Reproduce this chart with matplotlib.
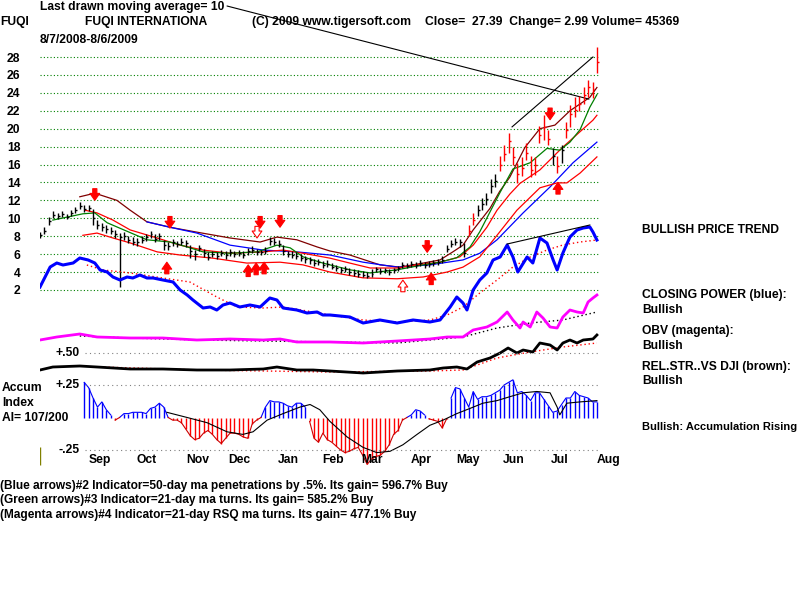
import numpy as np
import matplotlib
matplotlib.use("Agg")
import matplotlib.pyplot as plt

plt.rcParams["font.family"] = ["Liberation Sans", "DejaVu Sans"]

# ---- daily bars (one bar per two trading days, 8/7/2008 - 8/6/2009)
close = [8.1, 8.6, 9.7, 10.4, 10.2, 10.5, 10.1, 10.6, 10.9, 11.4,
         11.0, 11.2, 10.0, 9.2, 9.0, 8.8, 8.6, 8.2, 7.9, 8.0,
         7.6, 7.4, 7.3, 7.6, 7.9, 8.2, 7.7, 8.0, 7.0, 6.9,
         7.3, 7.1, 7.4, 7.2, 6.3, 6.0, 6.7, 6.1, 5.7, 6.0,
         5.8, 6.1, 5.9, 6.2, 6.0, 6.1, 5.9, 6.3, 6.5, 6.2,
         6.2, 6.4, 7.5, 7.4, 7.1, 6.3, 6.0, 5.9, 5.8, 5.6,
         5.4, 5.3, 5.0, 5.1, 4.8, 4.9, 4.6, 4.4, 4.2, 4.3,
         4.0, 3.9, 3.8, 3.7, 3.6, 3.8, 4.3, 4.1, 4.2, 4.0,
         4.2, 4.4, 4.8, 4.7, 4.9, 4.8, 5.0, 4.8, 4.9, 5.0,
         5.1, 5.3, 6.6, 7.1, 7.4, 7.3, 6.1, 8.6, 9.8, 10.9,
         11.6, 12.2, 13.6, 14.2, 16.0, 17.2, 18.6, 16.8, 14.9, 15.6,
         17.3, 15.4, 15.9, 19.3, 20.2, 18.9, 16.9, 15.8, 17.6, 19.8,
         21.6, 22.1, 22.8, 23.8, 24.6, 24.4, 27.4]
high = [8.5, 9.0, 10.1, 10.8, 10.6, 10.8, 10.5, 10.9, 11.3, 11.8,
        11.5, 11.5, 11.0, 9.8, 9.5, 9.2, 9.0, 8.7, 8.4, 8.5,
        8.0, 7.9, 7.8, 8.0, 8.3, 8.6, 8.2, 8.4, 7.6, 7.3,
        7.7, 7.5, 7.8, 7.6, 7.0, 6.5, 7.0, 6.6, 6.2, 6.4,
        6.2, 6.5, 6.3, 6.6, 6.4, 6.5, 6.3, 6.7, 6.9, 6.6,
        6.5, 6.8, 7.9, 7.8, 7.6, 7.0, 6.4, 6.3, 6.2, 6.0,
        5.8, 5.7, 5.5, 5.5, 5.2, 5.3, 5.0, 4.8, 4.6, 4.7,
        4.4, 4.3, 4.2, 4.1, 4.0, 4.3, 4.6, 4.4, 4.5, 4.3,
        4.5, 4.7, 5.1, 5.0, 5.2, 5.1, 5.3, 5.1, 5.2, 5.3,
        5.5, 5.8, 7.0, 7.6, 7.8, 7.7, 7.2, 9.3, 10.6, 11.5,
        12.3, 12.8, 14.4, 14.9, 16.9, 18.2, 19.5, 18.0, 16.2, 16.8,
        18.4, 16.9, 16.8, 20.3, 21.5, 19.8, 17.8, 16.9, 18.2, 20.8,
        22.6, 23.5, 23.6, 24.6, 25.4, 25.2, 29.1]
low = [7.8, 8.2, 9.3, 10.0, 9.9, 10.1, 9.9, 10.3, 10.6, 11.0,
       10.7, 10.8, 9.3, 8.8, 8.6, 8.4, 8.2, 7.8, 2.3, 7.6,
       7.2, 7.0, 6.9, 7.2, 7.5, 7.8, 7.3, 7.6, 6.5, 6.5,
       6.9, 6.8, 7.0, 6.8, 5.6, 5.3, 6.3, 5.7, 5.3, 5.7,
       5.4, 5.8, 5.5, 5.8, 5.7, 5.8, 5.6, 5.9, 6.1, 5.9,
       5.9, 6.0, 7.0, 7.0, 6.8, 5.9, 5.7, 5.6, 5.5, 5.2,
       5.0, 4.9, 4.7, 4.8, 4.5, 4.6, 4.3, 4.1, 3.9, 4.0,
       3.7, 3.6, 3.5, 3.4, 3.3, 3.5, 4.0, 3.8, 3.9, 3.7,
       3.9, 4.1, 4.5, 4.4, 4.6, 4.5, 4.7, 4.5, 4.6, 4.7,
       4.8, 5.0, 6.2, 6.8, 7.0, 6.8, 5.7, 8.0, 9.2, 10.2,
       10.9, 11.5, 12.8, 13.5, 15.3, 16.4, 17.3, 15.9, 13.9, 14.7,
       16.5, 14.6, 14.8, 18.4, 18.7, 18.2, 16.0, 15.0, 16.2, 19.0,
       20.2, 21.3, 22.0, 22.8, 23.5, 23.4, 26.2]
red_bars = [97, 98, 104, 105, 106, 107, 108, 109, 110, 111, 112, 113, 114,
            115, 117, 119, 120, 121, 122, 123, 124, 125, 126]

# ---- moving averages / bands (bar index, price)
ma10_x = [2.9, 9.7, 12.4, 15.2, 20.4, 24.2, 29.4, 33.3, 36.9, 43.0, 49.1, 53.6,
          56.6, 59.5, 64.0, 65.6, 70.1, 74.7, 80.8, 86.7, 90.5, 94.3, 97.3,
          99.5, 104.1, 107.0, 110.9, 114.7, 117.6, 119.9, 122.2, 124.4, 126.0]
ma10_y = [9.8, 10.5, 10.6, 9.5, 8.4, 7.6, 7.35, 6.8, 6.25, 6.1, 6.25, 7.0,
          6.7, 5.7, 5.0, 4.8, 4.25, 3.9, 4.25, 4.8, 5.1, 5.6, 6.8,
          8.5, 12.9, 15.5, 16.2, 17.8, 17.6, 18.5, 19.9, 22.4, 23.8]
ma21_x = [10.2, 12.9, 16.5, 20.4, 26.5, 31.7, 36.9, 43.0, 50.5, 55.0, 59.5,
          65.6, 70.1, 74.7, 80.8, 85.3, 90.5, 95.0, 98.0, 101.1, 103.4,
          106.3, 108.6, 113.1, 118.3, 125.1, 126.0]
ma21_y = [10.9, 10.6, 9.8, 8.7, 7.8, 7.0, 6.45, 6.1, 6.25, 6.45, 6.1,
          5.55, 5.0, 4.45, 4.45, 4.8, 5.1, 5.7, 7.0, 9.0, 10.9,
          12.7, 13.9, 15.4, 17.95, 20.95, 21.5]
upper_x = [9.0, 12.4, 17.4, 20.4, 24.2, 29.4, 35.5, 43.0, 49.8, 53.6, 58.1,
           62.7, 65.6, 70.1, 76.9, 81.4, 86.7, 90.5, 93.4, 95.7, 98.0,
           101.8, 104.0, 106.3, 109.7, 113.1, 116.5, 119.9, 124.4, 126.0]
upper_y = [12.4, 12.8, 12.0, 10.9, 9.6, 9.0, 8.45, 7.8, 7.35, 7.9, 7.6,
           6.8, 6.35, 5.9, 4.8, 4.55, 5.0, 5.35, 6.25, 7.0, 8.7,
           11.1, 13.0, 14.6, 17.9, 20.0, 20.4, 22.0, 23.5, 24.6]
lower_x = [9.7, 12.9, 16.5, 20.4, 26.5, 31.7, 39.1, 46.8, 54.3, 59.5, 65.6,
           73.1, 80.8, 86.7, 92.1, 95.7, 99.5, 103.4, 107.9, 113.1, 117.0,
           119.2, 122.2, 126.0]
lower_y = [8.1, 8.35, 7.8, 7.25, 6.25, 5.9, 5.55, 5.0, 5.1, 4.8, 4.0,
           3.35, 3.25, 3.45, 4.0, 4.55, 5.7, 8.1, 10.9, 13.4, 13.95,
           13.95, 15.05, 16.85]
ma50_x = [24.2, 29.4, 35.5, 43.0, 50.5, 58.1, 65.6, 73.1, 80.8, 88.2, 95.7,
          99.5, 103.4, 109.3, 115.4, 120.6, 126.0]
ma50_y = [9.6, 9.0, 8.35, 7.0, 6.45, 6.25, 5.9, 5.1, 4.55, 4.8, 5.35,
          6.1, 7.6, 10.6, 13.5, 16.2, 18.5]
trend_x = [106.8, 125.1]
trend_y = [20.2, 28.0]

# ---- signal arrows (bar index, price at the arrow tip)
down_x = [12.4, 29.4, 49.8, 54.3, 87.6, 115.4]
down_y = [12.0, 8.9, 8.9, 9.0, 6.2, 21.0]
down_hollow_x = [49.1]
down_hollow_y = [7.8]
up_x = [28.7, 47.1, 48.9, 50.7, 88.5, 117.2]
up_y = [5.1, 4.8, 5.0, 5.1, 3.9, 14.0]
up_hollow_x = [82.1]
up_hollow_y = [3.1]

# ---- closing power (blue) and its average
cp_x = [0, 2.3, 3.8, 5.2, 7.5, 9.0, 10.9, 12.4, 13.6, 15.2, 16.5, 18.1, 19.7,
        21.0, 22.6, 24.2, 25.6, 27.8, 30.1, 31.7, 33.3, 34.6, 36.9, 38.5, 40.0,
        41.4, 43.0, 45.2, 47.5, 49.8, 52.0, 53.6, 55.0, 58.1, 60.4, 62.7, 64.0,
        65.6, 70.1, 73.1, 76.9, 80.8, 84.4, 88.2, 90.5, 92.8, 94.3, 95.7, 96.6,
        98.0, 99.5, 101.1, 102.5, 104.1, 105.7, 107.0, 108.1, 110.2, 111.5,
        113.1, 114.7, 116.1, 117.0, 118.3, 119.9, 121.5, 122.9, 124.4, 125.1,
        126.0]
cp_y = [43, 63, 67, 65, 67, 72, 70, 67, 60, 58, 53, 50, 53,
        52, 55, 52, 52, 50, 48, 40, 35, 30, 22, 23, 20,
        25, 27, 23, 25, 23, 32, 30, 22, 20, 17, 18, 15,
        15, 13, 7, 10, 7, 10, 8, 10, 23, 33, 27, 20,
        40, 50, 57, 70, 73, 85, 73, 58, 73, 67,
        92, 87, 70, 60, 77, 93, 100, 102, 103, 98,
        90]
cp_ma_x = [10.6, 14.3, 20.4, 27.8, 33.9, 40.0, 44.6, 50.5, 55.0, 61.8, 65.6,
           73.1, 80.8, 88.2, 92.1, 95.7, 99.5, 103.4, 107.0, 110.9, 114.7,
           118.3, 122.2, 126.0]
cp_ma_y = [65, 60, 57, 52, 48, 33, 23, 22, 23, 18, 15,
           10, 8, 10, 15, 23, 37, 50, 63, 73, 80,
           85, 88, 90]
cp_trend_x = [105.7, 124.4]
cp_trend_y = [86, 105]

# ---- OBV (magenta) and its average
obv_x = [0, 3.8, 9.0, 12.9, 20.4, 27.8, 35.5, 43.0, 50.5, 54.3, 58.1, 65.6,
         73.1, 80.8, 88.2, 92.1, 95.7, 98.0, 101.1, 103.4, 105.7, 107.0,
         108.6, 109.3, 110.9, 112.4, 113.8, 115.4, 117.0, 118.3, 119.9,
         121.5, 122.9, 124.0, 125.1, 126.0]
obv_y = [10, 13, 16, 13, 12, 12, 10, 11, 10, 11, 8, 8,
         7, 9, 11, 13, 13, 20, 23, 28, 38, 30,
         22, 28, 23, 38, 32, 23, 22, 33, 40,
         38, 37, 48, 52, 55]
obv_ma_x = [9.0, 20.4, 36.2, 50.5, 65.6, 80.8, 88.2, 95.7, 103.4, 110.9,
            118.3, 126.0]
obv_ma_y = [14, 12, 10, 9, 8, 7, 10, 13, 22, 27, 30, 38]

# ---- relative strength vs DJI and its average
rs_x = [0, 2.9, 9.0, 12.9, 20.4, 27.8, 35.5, 43.0, 50.5, 53.6, 58.1, 61.8,
        65.6, 73.1, 80.8, 88.2, 91.2, 94.3, 96.6, 98.9, 101.8, 104.1, 105.9,
        107.9, 109.3, 111.5, 113.1, 115.4, 117.0, 118.3, 119.9, 121.5,
        122.9, 125.1, 126.0]
rs_y = [10, 13, 14, 13, 11, 11, 10, 10, 11, 13, 10, 10,
        9, 7, 9, 10, 12, 13, 11, 18, 22, 27, 32,
        27, 30, 28, 37, 35, 30, 37, 40, 37,
        40, 41, 45]
rs_ma_x = [13.6, 36.2, 65.6, 88.2, 95.7, 103.4, 110.9, 118.3, 126.0]
rs_ma_y = [13, 10, 8, 9, 10, 22, 28, 33, 37]

# ---- accumulation index (bars from index 10) and its average
ai_start = 10
ai = [.27, .23, .15, .08, .12, .06, .02, -.02, .00, .03,
      .03, .04, .04, .04, .03, .07, .08, .11, .08, .00,
      -.02, -.02, -.04, -.09, -.14, -.17, -.16, -.12, -.10, -.13,
      -.17, -.20, -.16, -.12, -.12, -.13, -.15, -.16, -.05, -.02,
      .00, .08, .13, .12, .12, .11, .09, .08, .11, .11,
      .08, -.03, -.16, -.19, -.12, -.17, -.19, -.22, -.25, -.27,
      -.26, -.24, -.23, -.29, -.36, -.32, -.30, -.29, -.26, -.21,
      -.13, -.10, -.02, .00, .02, .06, .05, .02, -.01, -.02,
      -.03, -.08, -.01, .15, .23, .22, .15, .08, .20, .14,
      .16, .16, .17, .19, .21, .25, .27, .29, .19, .20,
      .17, .13, .19, .19, .14, .09, .04, .05, .10, .15,
      .15, .20, .17, .16, .15, .12, .12]
ai_ma_x = [28.7, 33.3, 37.8, 42.3, 45.9, 48.2, 51.4, 55.0, 58.8, 61.1, 63.3,
           65.6, 69.5, 73.1, 76.2, 79.2, 82.1, 85.3, 88.2, 91.2, 94.3, 97.3,
           100.2, 103.4, 106.3, 109.3, 112.4, 115.4, 117.0, 117.6, 119.2,
           122.2, 126.0]
ai_ma_y = [.04, .00, -.04, -.11, -.13, -.11, -.02, .03, .08, .10, .06,
           -.03, -.15, -.23, -.27, -.26, -.21, -.13, -.06, -.02, .03, .07,
           .11, .13, .16, .19, .20, .19, .08, .02, .11,
           .12, .13]
ai_levels = [0.5, 0.25, -0.25]
ai_level_labels = ["+.50", "+.25", "-.25"]

months = ["Sep", "Oct", "Nov", "Dec", "Jan", "Feb", "Mar", "Apr", "May",
          "Jun", "Jul", "Aug"]
month_pos = [13.6, 24.0, 35.7, 45.2, 56.1, 66.3, 75.1, 86.2, 96.8, 107.2,
             117.6, 128.7]

W, H = 800, 600
FS = 8.7
XMAX = 560 / 4.42
fig = plt.figure(figsize=(8, 6), dpi=100)
fig.patch.set_facecolor("white")


def panel(top, bottom, ylim):
    a = fig.add_axes([40 / W, 1 - bottom / H, 560 / W, (bottom - top) / H])
    a.set_xlim(0, XMAX)
    a.set_ylim(*ylim)
    a.patch.set_alpha(0)
    for s in a.spines.values():
        s.set_visible(False)
    a.set_xticks([])
    a.set_yticks([])
    return a


def ftext(x, y, s, **kw):
    kw.setdefault("fontsize", FS)
    kw.setdefault("fontweight", "bold")
    fig.text(x / W, 1 - y / H, s, va="center", **kw)


# price panel
ax = panel(45, 300, (28 - 243 / 8.96, 28 + 12 / 8.96))
ax.set_yticks(range(2, 29, 2))
ax.set_yticklabels([str(v) for v in range(2, 29, 2)], fontweight="bold", fontsize=FS)
ax.tick_params(axis="y", length=0, pad=14)
ax.grid(axis="y", color="#008000", ls=(0, (1, 2)), lw=0.8)
ax.set_axisbelow(True)

xb = np.arange(len(close))
cols = ["#ff0000" if i in red_bars else "black" for i in xb]
ax.vlines(xb, low, high, colors=cols, lw=1.0, zorder=4)
ax.hlines(close, xb, xb + 0.45, colors=cols, lw=1.0, zorder=4)

ax.plot(upper_x, upper_y, color="#800000", lw=0.9, zorder=3)
ax.plot(ma50_x, ma50_y, color="#0000ff", lw=0.9, zorder=3)
ax.plot(lower_x, lower_y, color="#ff0000", lw=0.9, zorder=3)
ax.plot(ma21_x, ma21_y, color="#ff0000", lw=0.9, zorder=3)
ax.plot(ma10_x, ma10_y, color="#008000", lw=0.9, zorder=3)
ax.plot(trend_x, trend_y, color="black", lw=0.8, zorder=3)

astyle = "simple,head_length=0.5,head_width=0.7,tail_width=0.3"
alen = 1.3
for xs, ys, sgn, fc in [(down_x, down_y, 1, "red"), (down_hollow_x, down_hollow_y, 1, "white"),
                        (up_x, up_y, -1, "red"), (up_hollow_x, up_hollow_y, -1, "white")]:
    for x0, y0 in zip(xs, ys):
        ax.annotate("", xy=(x0, y0), xytext=(x0, y0 + sgn * alen),
                    arrowprops=dict(arrowstyle=astyle, fc=fc, ec="red", lw=0.8,
                                    mutation_scale=10, shrinkA=0, shrinkB=0),
                    zorder=6)

ax.annotate("", xy=(124.2, 23.3), xytext=(227 / W, 1 - 6 / H),
            textcoords="figure fraction", xycoords="data",
            arrowprops=dict(arrowstyle="-", color="black", lw=0.8,
                            shrinkA=0, shrinkB=0), annotation_clip=False)

# closing power
axc = panel(220, 330, (0, 110))
axc.plot(cp_ma_x, cp_ma_y, color="#ff0000", lw=1.0, ls=(0, (1, 2)))
axc.plot(cp_x, cp_y, color="#0000ff", lw=2.2)
axc.plot(cp_trend_x, cp_trend_y, color="black", lw=0.8)

# OBV
axo = panel(290, 350, (0, 60))
axo.plot(obv_ma_x, obv_ma_y, color="black", lw=1.0, ls=(0, (1, 2)))
axo.plot(obv_x, obv_y, color="#ff00ff", lw=2.0)

# relative strength
axr = panel(330, 380, (0, 50))
axr.plot(rs_ma_x, rs_ma_y, color="#ff0000", lw=1.0, ls=(0, (1, 2)))
axr.plot(rs_x, rs_y, color="black", lw=2.0)

# accumulation index
axa = panel(345, 470, ((417.5 - 470) / 130, (417.5 - 345) / 130))
ai = np.array(ai)
xa = np.arange(ai_start, ai_start + len(ai))
axa.vlines(xa, 0, ai, colors=np.where(ai >= 0, "#0000ff", "#ff0000"), lw=1.0)
axa.plot(xa, np.where(ai >= 0, ai, np.nan), color="#0000ff", lw=0.8)
axa.plot(xa, np.where(ai <= 0, ai, np.nan), color="#cc0000", lw=0.8)
axa.plot(ai_ma_x, ai_ma_y, color="black", lw=0.8)
axa.hlines(ai_levels, 45 / 4.42, XMAX, colors="gray", lw=0.8, ls=(0, (1, 3)))
for lv, lb in zip(ai_levels, ai_level_labels):
    axa.text(9.05, lv, lb, ha="right", va="center", fontsize=FS, fontweight="bold")
axa.vlines([0], -0.365, -0.227, colors="#808000", lw=1.0)
for m, p in zip(months, month_pos):
    axa.text(p, (417.5 - 460) / 130, m, ha="center", va="center",
             fontsize=FS, fontweight="bold", clip_on=False)

# header and side texts
ftext(40, 7, "Last drawn moving average= 10")
ftext(0, 22, "FUQI")
ftext(85, 22, "FUQI INTERNATIONA")
ftext(252, 22, "(C) 2009 www.tigersoft.com")
ftext(425, 22, "Close=  27.39  Change= 2.99 Volume= 45369")
ftext(40, 40, "8/7/2008-8/6/2009")
ftext(642, 230, "BULLISH PRICE TREND")
ftext(642, 295, "CLOSING POWER (blue):")
ftext(642, 310, "Bullish")
ftext(642, 331, "OBV (magenta):")
ftext(642, 346, "Bullish")
ftext(642, 367, "REL.STR..VS DJI (brown):")
ftext(642, 381, "Bullish")
ftext(642, 427, "Bullish: Accumulation Rising", fontsize=8.0)
ftext(2, 388, "Accum")
ftext(2, 403, "Index")
ftext(2, 418, "AI= 107/200")
ftext(0, 486, "(Blue arrows)#2 Indicator=50-day ma penetrations by .5%. Its gain= 596.7% Buy",
      fontsize=8.6)
ftext(0, 500, "(Green arrows)#3 Indicator=21-day ma turns. Its gain= 585.2% Buy",
      fontsize=8.6)
ftext(0, 515, "(Magenta arrows)#4 Indicator=21-day RSQ ma turns. Its gain= 477.1% Buy",
      fontsize=8.6)

fig.savefig("out.png", dpi=100, facecolor="white")
